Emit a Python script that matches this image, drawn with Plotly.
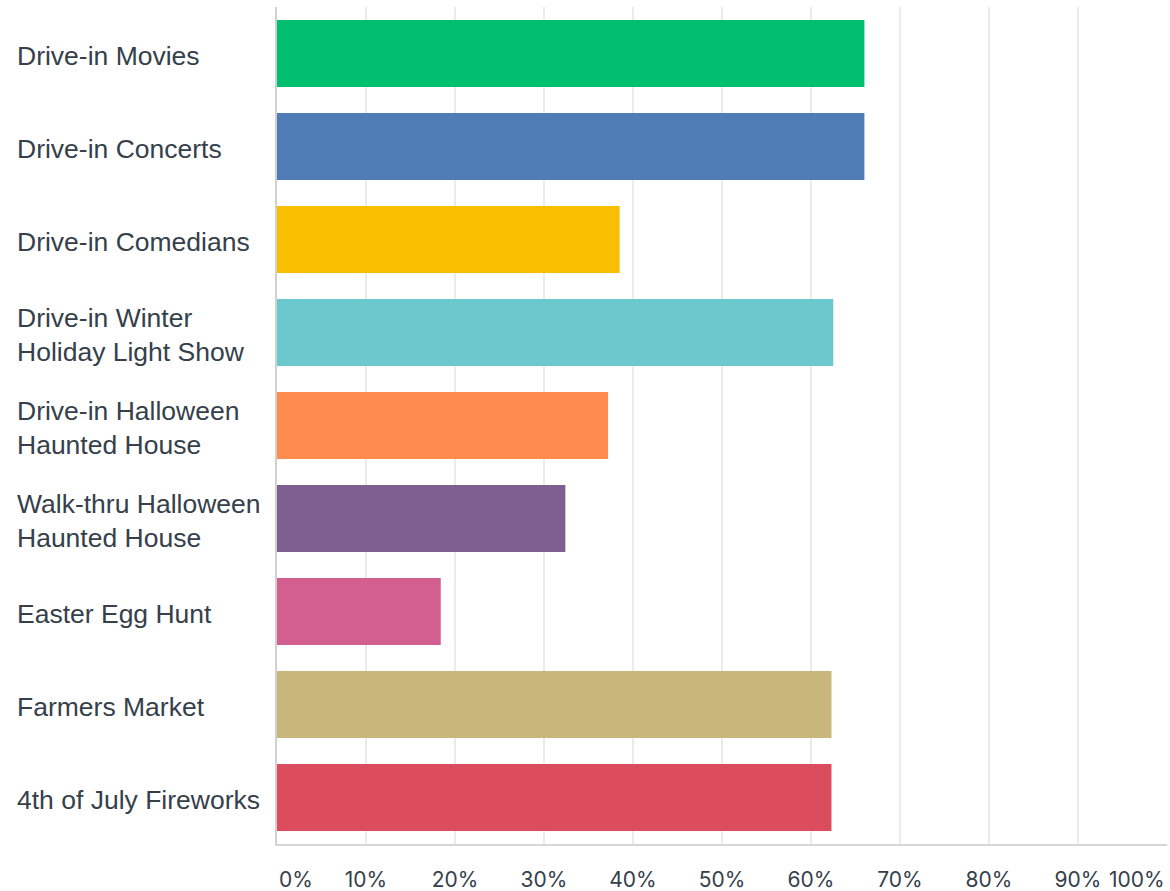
import plotly.graph_objects as go

# Survey results: share of respondents interested in each event type
categories = [
    "Drive-in Movies",
    "Drive-in Concerts",
    "Drive-in Comedians",
    "Drive-in Winter<br>Holiday Light Show",
    "Drive-in Halloween<br>Haunted House",
    "Walk-thru Halloween<br>Haunted House",
    "Easter Egg Hunt",
    "Farmers Market",
    "4th of July Fireworks",
]
percent = [66.0, 66.0, 38.5, 62.5, 37.2, 32.4, 18.4, 62.3, 62.3]
colors = [
    "#00bf6f", "#507cb6", "#f9be00", "#6bc8cd", "#ff8b4f",
    "#7f5f90", "#d25f90", "#c8b67b", "#db4d5c",
]
tick_values = [0, 10, 20, 30, 40, 50, 60, 70, 80, 90, 100]
tick_labels = [f"{v}%" for v in tick_values]

TEXT = "#35404b"
W, H = 1170, 891
M_L, M_R, M_T, M_B = 277, 3, 7, 47
plot_w = W - M_L - M_R
TICK_FONT = dict(family="Inter", size=21, color=TEXT)

fig = go.Figure(
    go.Bar(
        y=categories,
        x=percent,
        orientation="h",
        marker=dict(color=colors, line=dict(width=0)),
        width=0.72,
        hoverinfo="x+y",
    )
)

# Category labels, left-aligned in the left margin
annotations = []
for cat in categories:
    annotations.append(dict(
        xref="paper", yref="y", x=(15 - M_L) / plot_w, y=cat, yshift=-2,
        text=cat, showarrow=False, xanchor="left", yanchor="middle",
        align="left", font=dict(family="Liberation Sans, Arial", size=26.5, color=TEXT),
    ))

# End tick labels are kept inside the plot edges
annotations.append(dict(
    xref="x", yref="paper", x=tick_values[0], y=0, yshift=-35,
    text=tick_labels[0], showarrow=False, xanchor="left", yanchor="middle",
    font=TICK_FONT,
))
annotations.append(dict(
    xref="x", yref="paper", x=tick_values[-1], y=0, yshift=-35,
    text=tick_labels[-1], showarrow=False, xanchor="right", yanchor="middle",
    font=TICK_FONT,
))

fig.update_layout(
    width=W, height=H,
    margin=dict(l=M_L, r=M_R, t=M_T, b=M_B, pad=0, autoexpand=False),
    paper_bgcolor="white", plot_bgcolor="white",
    showlegend=False,
    bargap=0.28,
    annotations=annotations,
    xaxis=dict(
        range=[0, 100],
        tickmode="array",
        tickvals=tick_values[1:-1],
        ticktext=tick_labels[1:-1],
        tickfont=TICK_FONT,
        ticks="",
        ticklabelstandoff=16,
        automargin=False,
        showgrid=True, gridcolor="#ebebeb", gridwidth=1.5,
        zeroline=False,
        showline=True, linecolor="#d6d6d6", linewidth=2,
        fixedrange=True,
    ),
    yaxis=dict(
        categoryorder="array", categoryarray=categories,
        range=[len(categories) - 0.5, -0.5],
        showticklabels=False, ticks="",
        showgrid=False, zeroline=False,
        automargin=False,
        showline=True, linecolor="#d0d0d0", linewidth=2,
        fixedrange=True,
    ),
)

fig.write_html("out.html")
